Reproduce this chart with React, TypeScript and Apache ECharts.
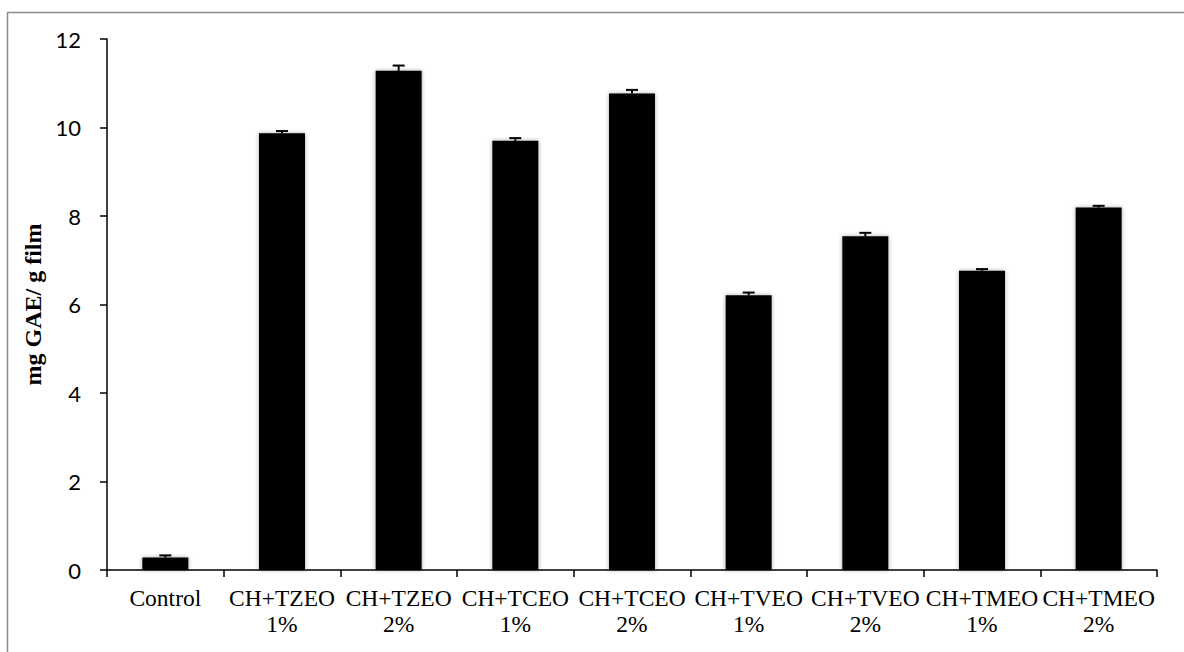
import React, { useEffect, useRef } from "react";
import * as echarts from "echarts";

// Total phenolic content of the chitosan films
const categories = [
  "Control",
  "CH+TZEO\n1%",
  "CH+TZEO\n2%",
  "CH+TCEO\n1%",
  "CH+TCEO\n2%",
  "CH+TVEO\n1%",
  "CH+TVEO\n2%",
  "CH+TMEO\n1%",
  "CH+TMEO\n2%",
];
const values = [0.28, 9.87, 11.28, 9.7, 10.77, 6.21, 7.54, 6.76, 8.19];
const errors = [0.05, 0.05, 0.12, 0.06, 0.08, 0.06, 0.08, 0.04, 0.04];
const yTicks = { min: 0, max: 12, interval: 2 };

export default function App() {
  const ref = useRef<HTMLDivElement>(null);

  useEffect(() => {
    if (!ref.current) return;
    const chart = echarts.init(ref.current, null, { renderer: "svg" });

    const errData = values.map((v, i) => [i, v, errors[i]]);

    chart.setOption({
      animation: false,
      backgroundColor: "#ffffff",
      graphic: [
        {
          type: "rect",
          left: 5,
          top: 10,
          shape: { x: 0, y: 0, width: 1400, height: 900 },
          style: { fill: "none", stroke: "#8c8c8c", lineWidth: 1.5 },
          silent: true,
          z: -10,
        },
      ],
      grid: { left: 107, right: 27, top: 39, bottom: 82, containLabel: false },
      xAxis: {
        type: "category",
        data: categories,
        axisLine: { lineStyle: { color: "#000", width: 1.5 } },
        axisTick: { show: true, length: 7, lineStyle: { color: "#000", width: 1.5 } },
        axisLabel: {
          interval: 0,
          margin: 15,
          color: "#000",
          fontFamily: "Liberation Serif",
          fontSize: 23.5,
          lineHeight: 26,
        },
        splitLine: { show: false },
      },
      yAxis: {
        type: "value",
        min: yTicks.min,
        max: yTicks.max,
        interval: yTicks.interval,
        name: "mg GAE/ g film",
        nameLocation: "middle",
        nameGap: 50,
        nameTextStyle: {
          fontFamily: "Liberation Serif",
          fontWeight: "bold",
          fontSize: 24,
          color: "#000",
        },
        axisLine: { show: true, lineStyle: { color: "#000", width: 1.5 } },
        axisTick: { show: true, length: 7, lineStyle: { color: "#000", width: 1.5 } },
        axisLabel: {
          margin: 26,
          color: "#000",
          fontFamily: "Lato",
          fontSize: 22,
        },
        splitLine: { show: false },
      },
      series: [
        {
          type: "bar",
          data: values,
          barWidth: 46,
          itemStyle: {
            color: "#000",
            shadowBlur: 4,
            shadowColor: "rgba(0,0,0,0.35)",
          },
        },
        {
          type: "custom",
          data: errData,
          z: 5,
          renderItem: (params: any, api: any) => {
            const idx = api.value(0);
            const v = api.value(1);
            const e = api.value(2);
            const base = api.coord([idx, v]);
            const top = api.coord([idx, v + e]);
            const half = 6;
            const style = { stroke: "#000", lineWidth: 2 };
            return {
              type: "group",
              children: [
                {
                  type: "line",
                  shape: { x1: base[0], y1: base[1], x2: top[0], y2: top[1] },
                  style,
                },
                {
                  type: "line",
                  shape: { x1: top[0] - half, y1: top[1], x2: top[0] + half, y2: top[1] },
                  style,
                },
              ],
            };
          },
        },
      ],
    });

    return () => chart.dispose();
  }, []);

  return (
    <div
      ref={ref}
      style={{ position: "absolute", left: 0, top: 0, width: 1184, height: 652 }}
    />
  );
}
